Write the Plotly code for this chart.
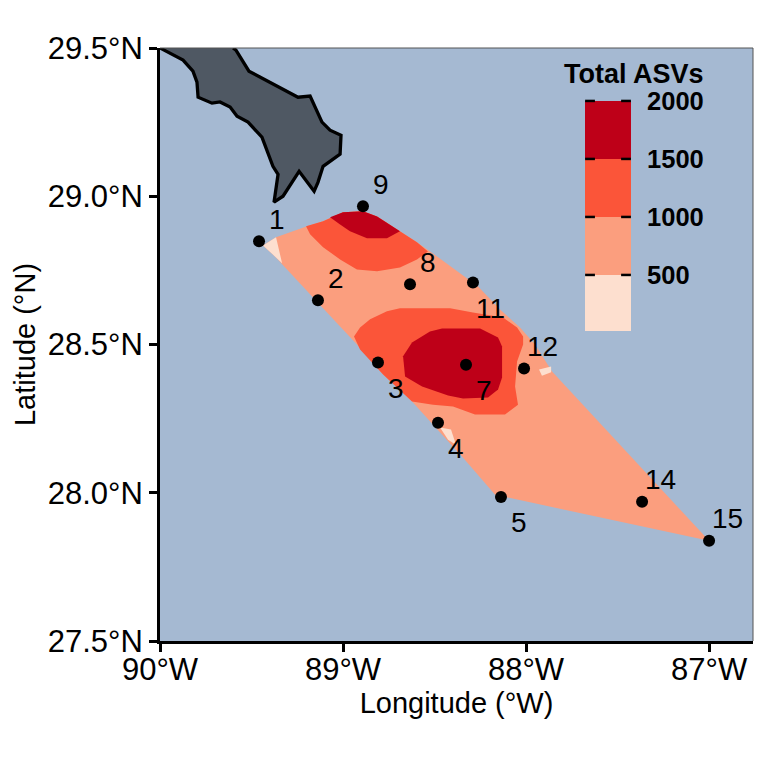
import plotly.graph_objects as go

# Station data
station_ids = ["1", "2", "3", "4", "5", "7", "8", "9", "11", "12", "14", "15"]
station_lon = [-89.459, -89.137, -88.809, -88.481, -88.137, -88.328, -88.634, -88.891, -88.290, -88.011, -87.366, -87.0]
station_lat = [28.848, 28.649, 28.439, 28.236, 27.986, 28.432, 28.703, 28.966, 28.709, 28.419, 27.970, 27.838]
label_above = [True, True, False, False, False, False, True, True, False, True, True, True]

# Land outline
land_lon = [-90, -89.874, -89.820, -89.798, -89.792, -89.716, -89.672, -89.617, -89.579, -89.519, -89.443, -89.415, -89.383, -89.355, -89.377, -89.328, -89.240, -89.158, -89.137, -89.109, -89.016, -89.011, -89.071, -89.115, -89.180, -89.246, -89.514, -89.585, -89.601]
land_lat = [29.5, 29.459, 29.422, 29.385, 29.334, 29.314, 29.318, 29.301, 29.270, 29.250, 29.199, 29.152, 29.101, 29.074, 28.980, 29.0, 29.084, 29.017, 29.047, 29.101, 29.142, 29.206, 29.223, 29.250, 29.338, 29.334, 29.422, 29.493, 29.5]

# Interpolated ASV zones
zone_main_lon = [-89.437, -89.366, -89.197, -89.109, -89.0, -88.891, -88.814, -88.689, -88.596, -88.486, -88.262, -88.142, -88.033, -87.951, -87.858, -87.0, -88.169, -88.344, -88.623, -88.781, -88.934, -89.016, -89.333, -89.372]
zone_main_lat = [28.834, 28.862, 28.899, 28.916, 28.946, 28.949, 28.932, 28.882, 28.845, 28.797, 28.696, 28.618, 28.557, 28.5, 28.409, 27.838, 27.993, 28.118, 28.308, 28.399, 28.507, 28.561, 28.774, 28.797]
pale_a_lon = [-89.437, -89.366, -89.333, -89.372]
pale_a_lat = [28.834, 28.862, 28.774, 28.797]
pale_b_lon = [-88.470, -88.410, -88.383, -88.426]
pale_b_lat = [28.220, 28.213, 28.162, 28.179]
pale_c_lon = [-87.929, -87.863, -87.863, -87.913]
pale_c_lat = [28.416, 28.426, 28.406, 28.395]
mid_north_lon = [-89.202, -89.109, -89.0, -88.891, -88.814, -88.689, -88.596, -88.536, -88.596, -88.689, -88.814, -88.924, -89.016, -89.109, -89.180]
mid_north_lat = [28.899, 28.916, 28.946, 28.949, 28.932, 28.882, 28.845, 28.814, 28.787, 28.760, 28.747, 28.753, 28.787, 28.828, 28.872]
high_north_lon = [-89.071, -89.0, -88.891, -88.814, -88.689, -88.760, -88.869, -88.962, -89.016]
high_north_lat = [28.929, 28.946, 28.949, 28.932, 28.882, 28.858, 28.858, 28.882, 28.905]
mid_south_lon = [-88.940, -88.907, -88.852, -88.760, -88.689, -88.415, -88.290, -88.126, -88.049, -88.016, -88.016, -88.049, -88.060, -88.044, -88.115, -88.279, -88.399, -88.508, -88.623, -88.781, -88.907]
mid_south_lat = [28.527, 28.557, 28.585, 28.612, 28.622, 28.622, 28.608, 28.591, 28.557, 28.527, 28.5, 28.443, 28.358, 28.297, 28.264, 28.264, 28.291, 28.297, 28.308, 28.399, 28.483]
high_south_lon = [-88.672, -88.623, -88.525, -88.459, -88.251, -88.153, -88.131, -88.131, -88.153, -88.208, -88.344, -88.426, -88.568, -88.661]
high_south_lat = [28.460, 28.507, 28.544, 28.554, 28.554, 28.524, 28.493, 28.389, 28.348, 28.321, 28.318, 28.328, 28.358, 28.392]

# Colour key
key_base = [0, 500, 1000, 1500]
key_size = [500, 500, 500, 500]
key_ticks = [500, 1000, 1500, 2000]
key_tick_text = ["500", "1000", "1500", "2000"]

PALE, LIGHT, MID, HIGH = "#FDDFCF", "#FB9E7E", "#FB5539", "#BE0018"
OCEAN, LAND = "#A5B9D2", "#4F5863"

lon_ticks = [-90, -89, -88, -87]
lon_text = ["90°W", "89°W", "88°W", "87°W"]
lat_ticks = [27.5, 28, 28.5, 29, 29.5]
lat_text = ["27.5°N", "28.0°N", "28.5°N", "29.0°N", "29.5°N"]

fig = go.Figure()


def zone(xs, ys, colour):
    fig.add_trace(go.Scatter(x=xs, y=ys, mode="lines", fill="toself", fillcolor=colour,
                             line=dict(width=0, color=colour), hoverinfo="skip", showlegend=False))


zone(zone_main_lon, zone_main_lat, LIGHT)
zone(pale_a_lon, pale_a_lat, PALE)
zone(pale_b_lon, pale_b_lat, PALE)
zone(pale_c_lon, pale_c_lat, PALE)
zone(mid_north_lon, mid_north_lat, MID)
zone(high_north_lon, high_north_lat, HIGH)
zone(mid_south_lon, mid_south_lat, MID)
zone(high_south_lon, high_south_lat, HIGH)

fig.add_trace(go.Scatter(x=land_lon, y=land_lat, mode="lines", fill="toself", fillcolor=LAND,
                         line=dict(width=3.3, color="black"), showlegend=False))

fig.add_trace(go.Scatter(x=station_lon, y=station_lat, mode="markers",
                         marker=dict(size=12, color="black"), showlegend=False))

for sid, lon, lat, above in zip(station_ids, station_lon, station_lat, label_above):
    fig.add_annotation(x=lon, y=lat, text=sid, showarrow=False, xshift=18, yshift=22 if above else -26,
                       font=dict(size=28, color="black", family="Liberation Sans"))

fig.add_trace(go.Bar(x=[0.5] * 4, y=key_size, base=key_base, width=1, marker=dict(color=[PALE, LIGHT, MID, HIGH], line=dict(width=0)),
                     xaxis="x2", yaxis="y2", showlegend=False))

# key tick marks on both edges of the bar
for edge in (0.109, 0.891):
    fig.add_trace(go.Scatter(x=[edge] * 4, y=key_ticks, mode="markers", cliponaxis=False,
                             marker=dict(symbol="line-ew", size=7, line=dict(width=2.5, color="black")),
                             xaxis="x2", yaxis="y2", showlegend=False, hoverinfo="skip"))

fig.add_annotation(xref="paper", yref="paper", x=0.7993, y=0.956, xanchor="center", yanchor="middle",
                   text="<b>Total ASVs</b>", showarrow=False,
                   font=dict(size=27, color="black", family="Liberation Sans"))

# thin top and right panel border
for x0, y0, x1, y1 in [(0, 1, 1, 1), (1, 0, 1, 1)]:
    fig.add_shape(type="line", xref="paper", yref="paper", x0=x0, y0=y0, x1=x1, y1=y1,
                  line=dict(color="#555555", width=1), layer="above")

axis_font = dict(size=31, color="black", family="Liberation Sans")
title_font = dict(size=29, color="black", family="Liberation Sans")
key_font = dict(size=25.5, color="black", family="Liberation Sans", weight="bold")

fig.update_layout(
    width=768, height=768,
    margin=dict(l=160, r=15, t=48, b=127),
    paper_bgcolor="white", plot_bgcolor=OCEAN,
    font=dict(family="Liberation Sans"),
    showlegend=False,
    xaxis=dict(range=[-90, -86.76], tickvals=lon_ticks, ticktext=lon_text, showgrid=False, zeroline=False,
               showline=True, linecolor="black", linewidth=3, ticks="outside", tickwidth=3, ticklen=8,
               tickcolor="black", tickfont=axis_font, ticklabelstandoff=-9,
               title=dict(text="Longitude (°W)", font=title_font, standoff=6)),
    yaxis=dict(range=[27.5, 29.5], tickvals=lat_ticks, ticktext=lat_text, showgrid=False, zeroline=False,
               showline=True, linecolor="black", linewidth=3, ticks="outside", tickwidth=3, ticklen=8,
               tickcolor="black", tickfont=axis_font, title=dict(text="Latitude (°N)", font=title_font, standoff=4)),
    xaxis2=dict(domain=[0.7167, 0.7943], anchor="y2", range=[0, 1], visible=False, fixedrange=True),
    yaxis2=dict(domain=[0.5228, 0.9123], anchor="x2", side="right", range=[17, 2008], tickvals=key_ticks,
                ticktext=key_tick_text, ticks="", showgrid=False, zeroline=False, showline=False,
                ticklabelstandoff=15, tickfont=key_font, fixedrange=True),
)

fig.write_html("out.html", post_script="document.body.style.margin='0';", config={"displayModeBar": False})
